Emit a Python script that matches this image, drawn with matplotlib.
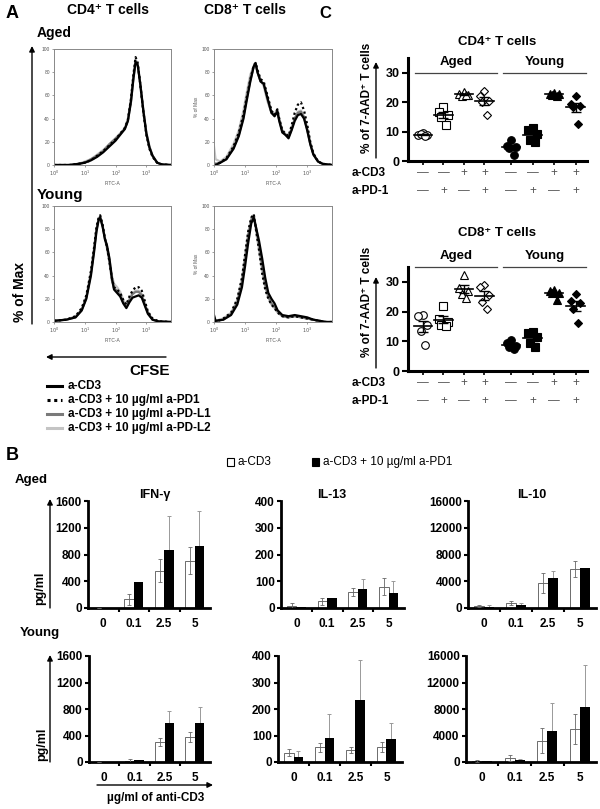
import matplotlib
matplotlib.use('Agg')
import matplotlib.pyplot as plt
import matplotlib.transforms as mtrans
from matplotlib.patches import FancyArrowPatch, Rectangle
from matplotlib.lines import Line2D
import numpy as np

plt.rcParams['font.family'] = ['Liberation Sans', 'DejaVu Sans']

# ---------------- data ----------------
# panel A: CFSE histograms, x in decades of FITC-A, y in % of max
# curve order: a-CD3, +a-PD1, +a-PD-L1, +a-PD-L2
cd4_aged_x = [0, 0.5, 0.8, 1.0, 1.2, 1.4, 1.6, 1.8, 2.0, 2.15, 2.3, 2.4, 2.5, 2.58, 2.65, 2.72, 2.8, 2.9, 3.0, 3.1, 3.2, 3.35, 3.5, 3.8]
cd4_aged_cd3 = [0, 0, 1, 2, 4, 7, 11, 16, 21, 26, 31, 38, 55, 75, 89, 86, 70, 47, 27, 15, 8, 2, 0.5, 0]
cd4_aged_pd1 = [0, 0, 1, 2, 4, 8, 12, 17, 22, 27, 32, 39, 57, 78, 93, 88, 70, 46, 26, 14, 7, 2, 0.5, 0]
cd4_aged_pdl1 = [0, 0, 1, 2, 5, 8, 12, 18, 23, 27, 31, 38, 54, 74, 88, 86, 71, 48, 28, 16, 8, 2, 0.5, 0]
cd4_aged_pdl2 = [0, 0, 1, 3, 5, 9, 13, 18, 22, 27, 32, 40, 57, 77, 91, 87, 70, 47, 27, 15, 8, 2, 0.5, 0]

cd8_aged_x = [0, 0.05, 0.2, 0.4, 0.63, 0.8, 0.95, 1.05, 1.17, 1.28, 1.34, 1.4, 1.5, 1.6, 1.72, 1.85, 1.95, 2.04, 2.1, 2.2, 2.3, 2.4, 2.5, 2.6, 2.7, 2.8, 2.9, 3.0, 3.1, 3.2, 3.35, 3.5, 3.8]
cd8_aged_cd3 = [0, 0, 2, 5, 14, 25, 40, 55, 72, 85, 88, 80, 72, 70, 58, 45, 42, 46, 38, 28, 26, 23, 30, 38, 43, 44, 40, 30, 18, 9, 3, 1, 0]
cd8_aged_pd1 = [0, 0, 2, 6, 16, 28, 44, 58, 74, 86, 88, 82, 74, 72, 60, 47, 43, 48, 40, 30, 27, 25, 34, 45, 52, 54, 47, 35, 20, 10, 3, 1, 0]
cd8_aged_pdl1 = [2, 1, 2, 5, 15, 26, 42, 57, 73, 85, 87, 80, 72, 70, 57, 45, 43, 47, 39, 29, 26, 24, 31, 40, 45, 46, 41, 31, 18, 9, 3, 1, 0]
cd8_aged_pdl2 = [16, 5, 3, 7, 18, 30, 47, 62, 78, 85, 86, 80, 73, 68, 55, 45, 44, 48, 40, 30, 27, 25, 32, 40, 46, 47, 42, 32, 19, 10, 3, 1, 0]

cd4_young_x = [0, 0.4, 0.7, 0.9, 1.05, 1.2, 1.3, 1.38, 1.45, 1.5, 1.58, 1.65, 1.72, 1.8, 1.88, 1.95, 2.05, 2.15, 2.25, 2.35, 2.45, 2.55, 2.65, 2.75, 2.85, 2.95, 3.05, 3.2, 3.4, 3.8]
cd4_young_cd3 = [1, 2, 4, 10, 20, 40, 60, 78, 88, 90, 82, 72, 66, 55, 38, 28, 25, 22, 16, 12, 17, 21, 22, 23, 21, 14, 7, 2, 0.5, 0]
cd4_young_pd1 = [1, 2, 5, 12, 23, 44, 64, 82, 90, 92, 84, 72, 65, 52, 38, 30, 28, 25, 19, 15, 22, 27, 30, 30, 27, 18, 9, 3, 0.5, 0]
cd4_young_pdl1 = [1, 2, 4, 10, 21, 42, 62, 80, 89, 91, 83, 72, 64, 52, 36, 29, 27, 23, 17, 13, 19, 24, 26, 26, 23, 15, 8, 2, 0.5, 0]
cd4_young_pdl2 = [1, 2, 5, 11, 22, 43, 63, 80, 88, 90, 82, 73, 66, 54, 40, 33, 30, 26, 19, 15, 20, 25, 27, 27, 24, 16, 8, 2, 0.5, 0]

cd8_young_x = [0, 0.05, 0.3, 0.55, 0.75, 0.9, 1.0, 1.1, 1.2, 1.28, 1.35, 1.45, 1.55, 1.65, 1.75, 1.85, 1.95, 2.05, 2.2, 2.4, 2.6, 2.8, 3.0, 3.2, 3.4, 3.6, 3.8]
cd8_young_cd3 = [6, 1, 2, 6, 15, 30, 48, 68, 85, 90, 82, 70, 55, 38, 25, 20, 16, 10, 6, 5, 6, 5, 4, 2, 1, 0, 0]
cd8_young_pd1 = [0, 0, 3, 8, 20, 38, 58, 78, 90, 93, 80, 62, 42, 28, 20, 15, 12, 8, 5, 4, 5, 4, 3, 2, 1, 0, 0]
cd8_young_pdl1 = [2, 1, 2, 7, 17, 34, 54, 74, 88, 92, 82, 66, 48, 32, 22, 16, 13, 9, 5, 4, 5, 4, 3, 2, 1, 0, 0]
cd8_young_pdl2 = [5, 1, 3, 8, 19, 37, 57, 76, 89, 91, 79, 62, 45, 30, 21, 15, 12, 8, 5, 4, 5, 4, 3, 2, 1, 0, 0]

legend_a = ['a-CD3', 'a-CD3 + 10 \u00b5g/ml a-PD1', 'a-CD3 + 10 \u00b5g/ml a-PD-L1', 'a-CD3 + 10 \u00b5g/ml a-PD-L2']

# panel B: cytokines (pg/ml), doses of anti-CD3
doses = ['0', '0.1', '2.5', '5']
ifn_aged_cd3 = [0, 130, 560, 710];      ifn_aged_cd3_err = [0, 80, 170, 200]
ifn_aged_pd1 = [0, 390, 860, 925];      ifn_aged_pd1_err = [0, 0, 520, 530]
il13_aged_cd3 = [8, 25, 60, 80];        il13_aged_cd3_err = [10, 12, 15, 32]
il13_aged_pd1 = [2, 36, 72, 56];        il13_aged_pd1_err = [0, 0, 35, 44]
il10_aged_cd3 = [300, 750, 3800, 5800]; il10_aged_cd3_err = [200, 350, 1500, 1200]
il10_aged_pd1 = [200, 480, 4500, 5950]; il10_aged_pd1_err = [200, 200, 1000, 0]

ifn_young_cd3 = [0, 10, 300, 375];      ifn_young_cd3_err = [0, 40, 65, 75]
ifn_young_pd1 = [0, 35, 590, 590];      ifn_young_pd1_err = [0, 0, 180, 235]
il13_young_cd3 = [35, 55, 45, 57];      il13_young_cd3_err = [13, 18, 12, 20]
il13_young_pd1 = [20, 90, 235, 86];     il13_young_pd1_err = [20, 90, 150, 60]
il10_young_cd3 = [200, 550, 3200, 5000]; il10_young_cd3_err = [150, 450, 1900, 2300]
il10_young_pd1 = [100, 320, 4700, 8300]; il10_young_pd1_err = [100, 150, 4200, 6300]

# panel C: % of 7-AAD+ cells, 5 mice per group
groups_c = ['Aged', 'Young']
cd3_signs = ['\u2014', '\u2014', '+', '+', '\u2014', '\u2014', '+', '+']
pd1_signs = ['\u2014', '+', '\u2014', '+', '\u2014', '+', '\u2014', '+']
cd4_dead = [
    [9.5, 9.0, 8.8, 9.2, 8.5],
    [18.5, 16.8, 15.5, 14.9, 12.4],
    [23.5, 22.8, 22.3, 22.0, 22.5],
    [23.8, 22.2, 20.5, 20.2, 15.5],
    [7.0, 5.0, 4.8, 4.3, 2.0],
    [11.3, 10.6, 9.3, 7.1, 6.6],
    [23.2, 22.9, 22.6, 22.4, 22.1],
    [22.2, 19.4, 18.8, 18.2, 12.6],
]
cd8_dead = [
    [19.0, 18.6, 15.5, 13.4, 8.8],
    [21.8, 17.4, 16.6, 15.6, 15.0],
    [32.4, 28.0, 27.0, 26.0, 24.5],
    [28.9, 28.4, 25.5, 23.3, 20.9],
    [10.5, 9.5, 8.4, 8.0, 7.3],
    [13.2, 12.8, 11.5, 9.5, 8.2],
    [27.4, 27.0, 26.1, 26.3, 23.9],
    [26.0, 23.6, 23.0, 21.0, 16.3],
]

# ---------------- layout helpers (pixel coords, origin top-left) ----------------
W, H = 600, 809
fig = plt.figure(figsize=(W / 100, H / 100), dpi=100)


def px_axes(left, top, right, bottom):
    return fig.add_axes([left / W, 1 - bottom / H, (right - left) / W, (bottom - top) / H])


def txt(x, y, s, **kw):
    kw.setdefault('ha', 'center')
    kw.setdefault('va', 'center')
    fig.text(x / W, 1 - y / H, s, **kw)


def arrow(x0, y0, x1, y1, scale=8):
    fig.add_artist(FancyArrowPatch((x0 / W, 1 - y0 / H), (x1 / W, 1 - y1 / H),
                                   transform=fig.transFigure, arrowstyle='-|>',
                                   mutation_scale=scale, lw=1.0, color='black',
                                   shrinkA=0, shrinkB=0))


def hline(x0, x1, y, **kw):
    fig.add_artist(Line2D([x0 / W, x1 / W], [1 - y / H, 1 - y / H], transform=fig.transFigure, **kw))


# ---------------- panel A ----------------
flow_styles = [dict(color='#c4c4c4', lw=1.6),
               dict(color='#7a7a7a', lw=1.6),
               dict(color='black', lw=1.6),
               dict(color='black', lw=1.6, ls=(0, (1, 1.2)))]


def flow_panel(box, x, cd3, pd1, pdl1, pdl2, ylab):
    ax = px_axes(*box)
    for y, st in zip([pdl2, pdl1, cd3, pd1], flow_styles):
        ax.plot(x, y, **st)
    ax.set_xlim(0, 3.8)
    ax.set_ylim(0, 100)
    ax.set_xticks([0, 1, 2, 3])
    ax.set_xticklabels([r'$10^{%d}$' % k for k in range(4)])
    ax.set_yticks(range(0, 101, 20))
    ax.tick_params(labelsize=3.5, length=1.5, width=0.4, colors='#555', pad=1.5)
    for sp in ax.spines.values():
        sp.set_color('#888')
        sp.set_linewidth(0.7)
    ax.set_xlabel('FITC-A', fontsize=3.5, labelpad=1.5, color='#555')
    if ylab:
        ax.set_ylabel('% of Max', fontsize=3.5, labelpad=2, color='#555')


flow_panel((54, 49, 171, 165), cd4_aged_x, cd4_aged_cd3, cd4_aged_pd1, cd4_aged_pdl1, cd4_aged_pdl2, False)
flow_panel((214, 49, 332, 165), cd8_aged_x, cd8_aged_cd3, cd8_aged_pd1, cd8_aged_pdl1, cd8_aged_pdl2, True)
flow_panel((54, 206, 171, 322), cd4_young_x, cd4_young_cd3, cd4_young_pd1, cd4_young_pdl1, cd4_young_pdl2, False)
flow_panel((214, 206, 332, 322), cd8_young_x, cd8_young_cd3, cd8_young_pd1, cd8_young_pdl1, cd8_young_pdl2, True)

txt(12, 13, 'A', fontsize=13, weight='bold')
txt(108, 10, 'CD4\u207a T cells', fontsize=10, weight='bold')
txt(245, 10, 'CD8\u207a T cells', fontsize=10, weight='bold')
txt(37, 33, 'Aged', fontsize=10, weight='bold', ha='left')
txt(37, 195, 'Young', fontsize=11, weight='bold', ha='left')
txt(20, 292, '% of Max', fontsize=10, weight='bold', rotation=90)
arrow(32, 324, 32, 46)
arrow(166, 357, 46, 357)
txt(150, 371, 'CFSE', fontsize=11, weight='bold')
for i, lab in enumerate(legend_a):
    y = 386 + i * 14
    st = dict(flow_styles[[2, 3, 1, 0][i]])
    st['lw'] = 2.2
    fig.add_artist(Line2D([47 / W, 62 / W], [1 - y / H] * 2, transform=fig.transFigure, **st))
    txt(68, y, lab, fontsize=8.5, weight='bold', ha='left')


# ---------------- panel B ----------------
def bar_panel(box, ymax, o_v, o_e, b_v, b_e):
    ax = px_axes(*box)
    g = np.arange(len(doses))
    w = 0.31
    ax.bar(g - w / 2, o_v, w, color='white', edgecolor='#555', lw=0.6, zorder=2)
    ax.errorbar(g - w / 2, o_v, yerr=o_e, fmt='none', ecolor='#666', elinewidth=0.6,
                capsize=1.5, capthick=0.6, zorder=3)
    ax.bar(g + w / 2, b_v, w, color='black', zorder=2)
    ax.errorbar(g + w / 2, b_v, yerr=[np.zeros(len(b_e)), b_e], fmt='none', ecolor='#999',
                elinewidth=0.7, capsize=1.5, capthick=0.7, zorder=1)
    ax.set_xlim(-0.5, 3.5)
    ax.set_ylim(0, ymax)
    ax.set_yticks(np.linspace(0, ymax, 5))
    ax.set_xticks(g)
    ax.set_xticklabels(doses)
    ax.set_xticks([0.5, 1.5, 2.5], minor=True)
    ax.tick_params(axis='x', which='major', length=0, pad=7)
    ax.tick_params(axis='x', which='minor', length=3, width=1.5)
    ax.tick_params(axis='y', length=3, width=1.5, pad=1.5)
    for lab in ax.get_xticklabels() + ax.get_yticklabels():
        lab.set_fontsize(8.5)
        lab.set_fontweight('bold')
    ax.spines['top'].set_visible(False)
    ax.spines['right'].set_visible(False)
    ax.spines['left'].set_linewidth(2)
    ax.spines['bottom'].set_linewidth(2)
    return ax


bar_panel((88, 501, 210, 608), 1600, ifn_aged_cd3, ifn_aged_cd3_err, ifn_aged_pd1, ifn_aged_pd1_err)
bar_panel((281, 501, 404, 608), 400, il13_aged_cd3, il13_aged_cd3_err, il13_aged_pd1, il13_aged_pd1_err)
bar_panel((468, 501, 596, 608), 16000, il10_aged_cd3, il10_aged_cd3_err, il10_aged_pd1, il10_aged_pd1_err)
bar_panel((89, 656, 210, 762), 1600, ifn_young_cd3, ifn_young_cd3_err, ifn_young_pd1, ifn_young_pd1_err)
bar_panel((278, 656, 402, 762), 400, il13_young_cd3, il13_young_cd3_err, il13_young_pd1, il13_young_pd1_err)
bar_panel((466, 656, 596, 762), 16000, il10_young_cd3, il10_young_cd3_err, il10_young_pd1, il10_young_pd1_err)

txt(12, 455, 'B', fontsize=13, weight='bold')
fig.add_artist(Rectangle((227 / W, 1 - 466 / H), 7 / W, 8 / H, transform=fig.transFigure,
                         facecolor='white', edgecolor='black', lw=0.8))
txt(237, 462, 'a-CD3', fontsize=8.5, ha='left')
fig.add_artist(Rectangle((312 / W, 1 - 466 / H), 7 / W, 8 / H, transform=fig.transFigure,
                         facecolor='black', edgecolor='black', lw=0.8))
txt(323, 462, 'a-CD3 + 10 \u00b5g/ml a-PD1', fontsize=8.5, ha='left')
txt(15, 480, 'Aged', fontsize=9.5, weight='bold', ha='left')
txt(20, 633, 'Young', fontsize=9.5, weight='bold', ha='left')
txt(155, 495, 'IFN-\u03b3', fontsize=9, weight='bold')
txt(332, 495, 'IL-13', fontsize=9, weight='bold')
txt(532, 495, 'IL-10', fontsize=9, weight='bold')
txt(40, 588, 'pg/ml', fontsize=9, weight='bold', rotation=90)
txt(42, 744, 'pg/ml', fontsize=9, weight='bold', rotation=90)
arrow(50, 608, 50, 499)
arrow(50, 762, 50, 655)
arrow(97, 785, 213, 785)
txt(156, 798, '\u00b5g/ml of anti-CD3', fontsize=8.5, weight='bold')

# ---------------- panel C ----------------
col_x = [0, 1, 2, 3, 4.3, 5.35, 6.4, 7.45]
jitter = [0.0, -0.22, 0.22, -0.12, 0.12]
mk = ['o', 's', '^', 'D']
mk_size = {'o': 5.5, 's': 5.5, '^': 6, 'D': 4.5}


def dot_panel(box, data, grp_text_y, grp_line_y, sign_rows, lab_y, arr):
    ax = px_axes(*box)
    for i, vals in enumerate(data):
        m = mk[i % 4]
        face = 'white' if i < 4 else 'black'
        xs = [col_x[i] + j for j in jitter]
        ax.plot(xs, vals, m, ms=mk_size[m], mfc=face, mec='black', mew=0.8, zorder=3, clip_on=False)
        mu = np.mean(vals)
        sem = np.std(vals, ddof=1) / np.sqrt(len(vals))
        ax.plot([col_x[i] - 0.45, col_x[i] + 0.45], [mu, mu], color='black', lw=1.2, zorder=4)
        ax.errorbar(col_x[i], mu, yerr=sem, fmt='none', ecolor='black', elinewidth=1.0,
                    capsize=3.5, capthick=1.0, zorder=4)
    ax.set_xlim(-0.73, 8.0)
    ax.set_ylim(0, 35)
    ax.set_yticks([0, 10, 20, 30])
    ax.set_xticks(col_x)
    ax.set_xticklabels([])
    ax.tick_params(axis='y', length=4, width=1.5, pad=2)
    ax.tick_params(axis='x', length=3, width=1.2)
    for lab in ax.get_yticklabels():
        lab.set_fontsize(9)
        lab.set_fontweight('bold')
    ax.spines['top'].set_visible(False)
    ax.spines['right'].set_visible(False)
    ax.spines['left'].set_linewidth(2.2)
    ax.spines['bottom'].set_linewidth(2.2)

    trans = mtrans.blended_transform_factory(ax.transData, fig.transFigure)
    for (name, signs), y in zip(sign_rows, [box[3] + 12, box[3] + 30]):
        txt(352, y, name, fontsize=8.5, weight='bold', ha='left')
        for cx, s in zip(col_x, signs):
            ax.text(cx, 1 - y / H, s, transform=trans, ha='center', va='center',
                    fontsize=8.5, color='#555')
    # group headers
    for g, (x0, x1) in zip(groups_c, [(415, 497), (503, 586)]):
        hline(x0, x1, grp_line_y, color='#444', lw=0.9)
        txt((x0 + x1) / 2, grp_text_y, g, fontsize=9.5, weight='bold')
    txt(367, lab_y, '% of 7-AAD\u207a T cells', fontsize=8.5, weight='bold', rotation=90)
    arrow(376, arr[0], 376, arr[1])


rows = [('a-CD3', cd3_signs), ('a-PD-1', pd1_signs)]
dot_panel((408, 58, 587, 161), cd4_dead, 62, 73, rows, 98, (158, 62))
dot_panel((408, 267, 587, 371), cd8_dead, 256, 267, rows, 302, (368, 277))
txt(325, 13, 'C', fontsize=12, weight='bold')
txt(497, 42, 'CD4\u207a T cells', fontsize=9.5, weight='bold')
txt(497, 233, 'CD8\u207a T cells', fontsize=9.5, weight='bold')

fig.savefig('out.png', dpi=100)
